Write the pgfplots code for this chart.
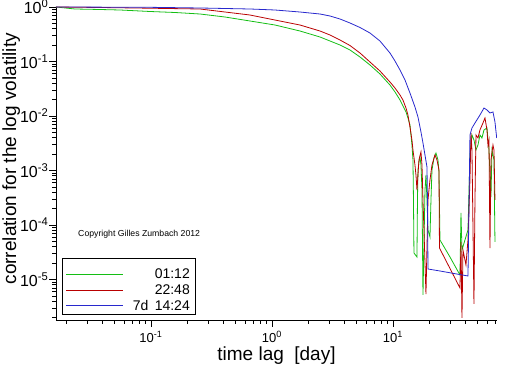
\documentclass[border=0pt]{standalone}
\usepackage{fontspec}
\setmainfont{Liberation Sans}
\usepackage{pgfplots}
\pgfplotsset{compat=1.18}
\definecolor{cgreen}{RGB}{20,190,20}
\definecolor{cred}{RGB}{185,0,0}
\definecolor{cblue}{RGB}{40,40,205}
\begin{document}
\begin{tikzpicture}
\useasboundingbox (-56pt,-46pt) rectangle (456pt,320pt);
\begin{axis}[
  at={(0pt,0pt)}, anchor=south west,
  width=441pt, height=313pt, scale only axis,
  xmode=log, ymode=log,
  xmin=0.0164, xmax=72.4, ymin=1.806e-6, ymax=1,
  axis x line*=bottom, axis y line*=left,
  axis line style={-, line width=0.8pt},
  tick align=outside,
  major tick length=7pt, minor tick length=4pt,
  tick style={black, line width=0.7pt},
  xtick={0.1,1,10},
  xticklabels={10\textsuperscript{-1},10\textsuperscript{0},10\textsuperscript{1}},
  minor xtick={0.02,0.03,0.04,0.05,0.06,0.07,0.08,0.09,0.2,0.3,0.4,0.5,0.6,0.7,0.8,0.9,2,3,4,5,6,7,8,9,20,30,40,50,60,70},
  ytick={1e-5,1e-4,1e-3,1e-2,1e-1,1},
  yticklabels={10\textsuperscript{-5},10\textsuperscript{-4},10\textsuperscript{-3},10\textsuperscript{-2},10\textsuperscript{-1},10\textsuperscript{0}},
  minor ytick={2e-6,3e-6,4e-6,5e-6,6e-6,7e-6,8e-6,9e-6,
    2e-5,3e-5,4e-5,5e-5,6e-5,7e-5,8e-5,9e-5,
    2e-4,3e-4,4e-4,5e-4,6e-4,7e-4,8e-4,9e-4,
    2e-3,3e-3,4e-3,5e-3,6e-3,7e-3,8e-3,9e-3,
    2e-2,3e-2,4e-2,5e-2,6e-2,7e-2,8e-2,9e-2,
    0.2,0.3,0.4,0.5,0.6,0.7,0.8,0.9},
  xticklabel style={font=\fontsize{13}{13}\selectfont, yshift=-1pt},
  yticklabel style={font=\fontsize{16}{16}\selectfont, inner xsep=0.5pt},
  xlabel={time lag\hspace{0.55em}[day]},
  ylabel={correlation for the log volatility},
  xlabel style={at={(axis description cs:0.5,-0.113)}, anchor=center, font=\fontsize{19}{20}\selectfont},
  ylabel style={at={(axis description cs:-0.1015,0.515)}, anchor=center, font=\fontsize{19}{20}\selectfont},
  every axis plot/.append style={line width=0.8pt},
  clip=true,
]
\addplot[color=cgreen] coordinates {
(0.0164,1)(0.02354,0.919)(0.0379,0.900)(0.05544,0.881)(0.09812,0.827)(0.1579,0.793)
(0.2541,0.744)(0.4089,0.6555)(0.6579,0.5535)(1.059,0.4674)(1.703,0.3627)(2.061,0.3197)(2.493,0.2815)
(3.015,0.2377)(3.648,0.2008)(4.412,0.1626)(5.338,0.1209)(6.456,0.0863)(7.809,0.0590)
(9.445,0.0370)(10.39,0.0276)(11.43,0.0197)(12.09,0.0153)(12.81,0.0119)(13.30,0.0092)
(13.82,0.00684)(14.08,0.00448)(14.35,0.00294)(14.63,0.00156)(14.77,2.876e-4)(14.91,3.063e-5)
(15.79,2.587e-5)(15.94,2.876e-4)(16.09,0.00102)(16.40,0.00143)(16.72,0.00177)(17.04,0.00126)
(17.37,4.387e-4)(17.70,5.195e-6)(18.04,4.296e-5)(18.39,4.387e-4)(18.74,8.27e-4)(19.10,2.876e-4)
(19.47,8.09e-5)(20.22,6.02e-5)(20.61,2.876e-4)(21.01,0.00102)(21.82,0.00170)(22.67,0.00209)
(23.55,0.00156)(24.00,0.00094)(24.46,5.306e-5)(29.59,2.587e-5)(35.79,1.209e-5)(36.48,1.661e-4)
(37.18,3.477e-5)(39.36,5.306e-5)(41.67,8.09e-5)(43.29,0.00193)(44.97,0.00448)(46.71,0.00363)
(48.53,0.00238)(50.42,0.00294)(52.36,0.00448)(54.39,0.00395)(56.51,0.00554)(59.84,0.00602)
(62.15,0.00238)(64.56,3.264e-4)(65.81,0.00238)(68.36,0.00156)(69.67,4.876e-5)
};
\addplot[color=cred] coordinates {
(0.0164,1)(0.0379,0.979)(0.07376,0.959)(0.2541,0.919)(0.6579,0.7131)(1.703,0.4674)
(2.493,0.3627)(3.015,0.3063)(3.648,0.2480)(4.412,0.1966)(5.338,0.1432)(6.456,0.0979)(7.809,0.0669)
(9.445,0.04206)(10.39,0.03265)(11.43,0.02428)(12.09,0.01966)(12.81,0.01402)(13.30,0.01043)
(13.82,0.006285)(14.35,0.00363)(14.63,0.00238)(15.20,0.00126)(15.49,8.27e-4)(15.79,4.387e-4)
(16.09,8.27e-4)(16.40,0.00156)(17.04,0.00219)(17.37,0.00126)(17.70,2.876e-4)(18.04,8.09e-5)
(18.74,5.419e-6)(19.10,3.784e-5)(19.47,2.876e-4)(20.22,6.69e-4)(21.01,0.00126)(22.24,0.00193)
(23.10,0.00156)(24.00,0.00102)(24.23,3.784e-5)(35.79,6.982e-6)(36.48,4.876e-5)(37.18,1.966e-6)
(37.89,3.477e-5)(40.11,1.845e-5)(41.67,5.306e-5)(43.29,6.69e-4)(44.12,0.00488)(44.97,0.00237)
(46.71,3.553e-6)(47.61,2.876e-4)(48.53,0.00448)(50.42,0.00395)(52.36,0.00554)(55.44,0.00744)
(57.59,0.00919)(59.84,0.00554)(60.98,0.00294)(62.15,0.00363)(63.35,3.784e-5)(64.56,0.00156)
(67.07,0.00294)(68.36,0.00238)(69.67,2.876e-4)
};
\addplot[color=cblue] coordinates {
(0.0164,1)(0.09812,0.987)(0.2541,0.959)(0.4089,0.939)(0.6579,0.919)(1.059,0.881)(1.703,0.8095)
(2.493,0.744)(3.015,0.6838)(3.648,0.6025)(4.412,0.5086)(5.338,0.4206)(6.456,0.3334)(7.809,0.2377)
(9.445,0.1432)(10.39,0.1021)(11.43,0.0698)(12.57,0.04576)(13.82,0.02642)
(15.20,0.01462)(16.09,0.009587)(17.04,0.005086)(17.70,0.003196)(18.39,0.001925)(19.10,0.001159)
(19.28,2.876e-4)(19.47,1.558e-5)(24.46,1.432e-5)(41.67,1.159e-5)(42.07,4.296e-5)(43.29,0.00448)
(44.97,0.00602)(47.61,0.00744)(52.36,0.01043)(56.51,0.01402)(59.84,0.01288)(63.35,0.01135)
(67.07,0.01184)(69.67,0.00776)(72.0,0.00395)
};
% legend
\draw[black, line width=0.8pt, fill=white] (axis description cs:0.0136,0.0192) rectangle (axis description cs:0.3152,0.1981);
\draw[cgreen, line width=0.9pt] (axis description cs:0.0227,0.147) -- (axis description cs:0.1519,0.147);
\draw[cred, line width=0.9pt] (axis description cs:0.0227,0.0958) -- (axis description cs:0.1519,0.0958);
\draw[cblue, line width=0.9pt] (axis description cs:0.0227,0.0479) -- (axis description cs:0.1519,0.0479);
\node[anchor=east, inner sep=0pt, font=\fontsize{14}{15}\selectfont] at (axis description cs:0.3039,0.147) {01:12};
\node[anchor=east, inner sep=0pt, font=\fontsize{14}{15}\selectfont] at (axis description cs:0.3039,0.0958) {22:48};
\node[anchor=east, inner sep=0pt, font=\fontsize{14}{15}\selectfont] at (axis description cs:0.3039,0.0479) {7d\hspace{0.45em}14:24};
\node[anchor=west, inner sep=0pt, font=\fontsize{8.7}{9}\selectfont] at (rel axis cs:0.05,0.275) {Copyright Gilles Zumbach 2012};
\end{axis}
\end{tikzpicture}
\end{document}
